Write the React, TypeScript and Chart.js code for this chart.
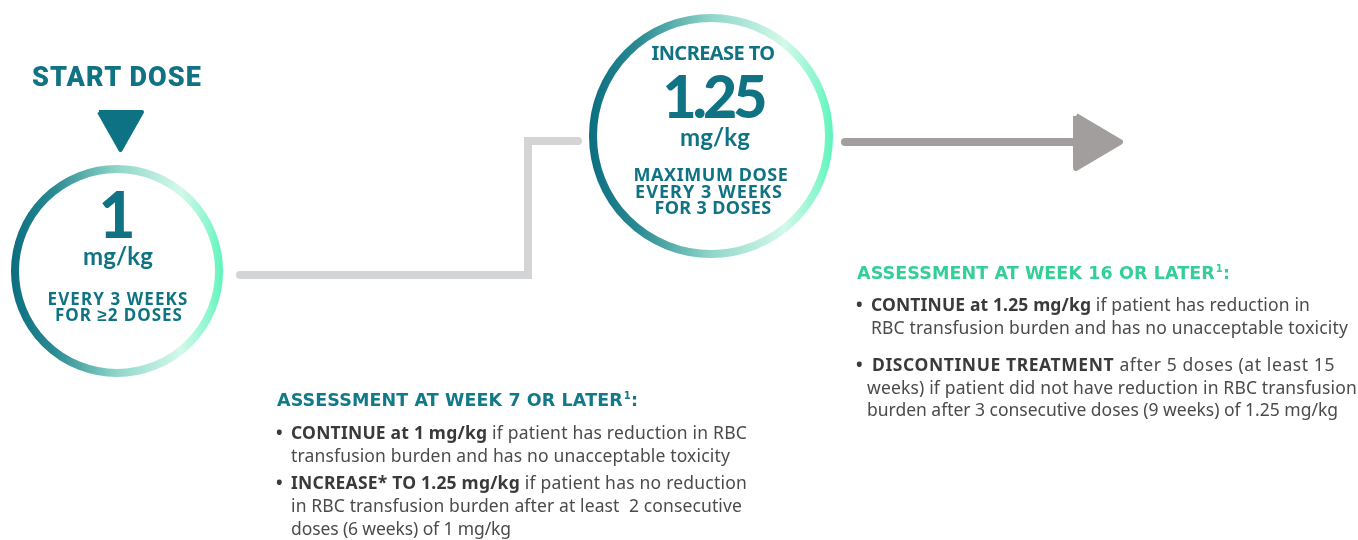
import React, { useEffect, useLayoutEffect, useRef } from "react";
import { Chart, registerables } from "chart.js";

Chart.register(...registerables);

const W = 1358;
const H = 540;

// Node / path coordinates of the flow diagram (in scale units = pixels of the 1358x540 plot)
const connectorPath = [
  { x: 240, y: 275 },
  { x: 528, y: 275 },
  { x: 528, y: 141 },
  { x: 578, y: 141 },
];
const arrowShaft = [
  { x: 845, y: 142 },
  { x: 1078, y: 142 },
];
const arrowHead = [
  { x: 1076, y: 116 },
  { x: 1120, y: 142 },
  { x: 1076, y: 168 },
  { x: 1076, y: 116 },
];
const startMarker = [
  { x: 99, y: 112 },
  { x: 142, y: 112 },
  { x: 120.5, y: 150 },
  { x: 99, y: 112 },
];
const doseNodes = [
  { x: 117, y: 271 },
  { x: 711, y: 136 },
];
const ringRadii = [102, 118];
const divider1 = [
  { x: 52, y: 278 },
  { x: 179, y: 278 },
];
const divider2 = [
  { x: 643, y: 156 },
  { x: 787, y: 156 },
];

const TEAL = "#0f7383";
const GREEN = "#33cf97";
const BODY = "#4b4b4d";
const BODY_BOLD = "#3a3a3c";

const METRICS: Record<string, { asc: number; desc: number }> = {
  Roboto: { asc: 0.927, desc: 0.244 },
  Lato: { asc: 0.987, desc: 0.213 },
  "Open Sans": { asc: 1.069, desc: 0.293 },
  "Noto Sans": { asc: 1.069, desc: 0.293 },
  "DejaVu Sans": { asc: 0.928, desc: 0.236 },
};

type TextProps = {
  x: number;
  y: number;
  size: number;
  weight?: number;
  color: string;
  align?: "left" | "center";
  family?: string;
  fit?: number;
  children: React.ReactNode;
};

function Txt({ x, y, size, weight = 400, color, align = "left", family = "Noto Sans", fit, children }: TextProps) {
  const el = useRef<HTMLDivElement | null>(null);
  useLayoutEffect(() => {
    const node = el.current;
    if (!node || !fit) return;
    node.style.letterSpacing = "0px";
    const w = node.getBoundingClientRect().width;
    const n = (node.textContent || "").length;
    if (n > 0) node.style.letterSpacing = `${(fit - w) / n}px`;
  }, [fit]);
  const m = METRICS[family] || METRICS.Lato;
  const top = y - ((size * (1 - m.asc - m.desc)) / 2 + m.asc * size);
  const style: React.CSSProperties = {
    position: "absolute",
    top,
    left: x,
    whiteSpace: "pre",
    fontFamily: `"${family}", sans-serif`,
    fontSize: size,
    fontWeight: weight,
    color,
    lineHeight: `${size}px`,
  };
  if (align === "center") style.transform = "translateX(-50%)";
  return (
    <div ref={el} style={style}>
      {children}
    </div>
  );
}

const B = ({ children }: { children: React.ReactNode }) => (
  <span style={{ fontWeight: 700, color: BODY_BOLD }}>{children}</span>
);
const Sup = () => (
  <span style={{ fontSize: 10, position: "relative", top: -7, marginLeft: 1 }}>1</span>
);

const BODY_SIZE = 17.5;

function Body({ x, y, fit, children }: { x: number; y: number; fit?: number; children: React.ReactNode }) {
  return (
    <Txt x={x} y={y} size={BODY_SIZE} color={BODY} fit={fit}>
      {children}
    </Txt>
  );
}

function Bullet({ x, y }: { x: number; y: number }) {
  return (
    <Txt x={x} y={y} size={BODY_SIZE} weight={700} color={BODY_BOLD}>
      •
    </Txt>
  );
}

export default function App() {
  const ref = useRef<HTMLCanvasElement | null>(null);

  useEffect(() => {
    if (!ref.current) return;
    const ringColor = (c: any) => {
      const chart = c.chart;
      if (c.type !== "data" || !chart.scales || !chart.scales.x) return TEAL;
      const p = doseNodes[c.dataIndex];
      const r = ringRadii[c.dataIndex] + 4;
      const cx = chart.scales.x.getPixelForValue(p.x);
      if (!Number.isFinite(cx)) return TEAL;
      const g = chart.ctx.createLinearGradient(cx - r, 0, cx + r, 0);
      g.addColorStop(0, "#0b6e80");
      g.addColorStop(0.2, "#2a8a92");
      g.addColorStop(0.5, "#8fd6c9");
      g.addColorStop(0.8, "#d3f9ea");
      g.addColorStop(0.93, "#8ef6cf");
      g.addColorStop(1, "#5cf5ba");
      return g;
    };

    const chart = new Chart(ref.current, {
      type: "scatter",
      data: {
        datasets: [
          {
            type: "scatter",
            data: doseNodes,
            pointRadius: ringRadii,
            pointHoverRadius: ringRadii,
            pointBorderWidth: 8,
            pointHoverBorderWidth: 8,
            pointBackgroundColor: "#ffffff",
            pointBorderColor: ringColor,
          } as any,
          { type: "line", data: divider1, borderColor: TEAL, borderWidth: 2, pointRadius: 0 },
          { type: "line", data: divider2, borderColor: TEAL, borderWidth: 2, pointRadius: 0 },
          {
            type: "line",
            data: connectorPath,
            borderColor: "#d3d4d6",
            borderWidth: 8,
            borderCapStyle: "round",
            borderJoinStyle: "miter",
            pointRadius: 0,
            tension: 0,
          },
          {
            type: "line",
            data: arrowShaft,
            borderColor: "#a39e9e",
            borderWidth: 8,
            borderCapStyle: "round",
            pointRadius: 0,
          },
          {
            type: "line",
            data: arrowHead,
            borderColor: "#a39e9e",
            backgroundColor: "#a39e9e",
            borderWidth: 6,
            borderJoinStyle: "round",
            fill: "shape",
            pointRadius: 0,
          },
          {
            type: "line",
            data: startMarker,
            borderColor: "#0d7283",
            backgroundColor: "#0d7283",
            borderWidth: 4,
            borderJoinStyle: "round",
            fill: "shape",
            pointRadius: 0,
          },
        ],
      },
      options: {
        animation: false,
        responsive: false,
        devicePixelRatio: 1,
        events: [],
        layout: { padding: 0, autoPadding: false },
        plugins: { legend: { display: false }, tooltip: { enabled: false } },
        scales: {
          x: { type: "linear", min: 0, max: W, display: false },
          y: { type: "linear", min: 0, max: H, reverse: true, display: false },
        },
      },
    });
    chart.update();
    return () => chart.destroy();
  }, []);

  return (
    <div style={{ position: "absolute", left: 0, top: 0, width: W, height: H, background: "#fff", overflow: "hidden" }}>
      <canvas ref={ref} width={W} height={H} style={{ position: "absolute", left: 0, top: 0 }} />

      {/* Start dose */}
      <Txt x={117} y={87} size={27} weight={900} color={TEAL} align="center" family="Roboto" fit={170}>START DOSE</Txt>

      {/* Circle 1 */}
      <Txt x={117} y={239} size={64} weight={900} color={TEAL} align="center" family="Lato">1</Txt>
      <Txt x={118} y={265} size={24} weight={700} color={TEAL} align="center" family="Lato" fit={70}>mg/kg</Txt>
      <Txt x={118} y={305} size={17} weight={700} color={TEAL} align="center" fit={141}>EVERY 3 WEEKS</Txt>
      <Txt x={119} y={321} size={17} weight={700} color={TEAL} align="center" fit={128}>FOR ≥2 DOSES</Txt>

      {/* Circle 2 */}
      <Txt x={713} y={61} size={20} weight={700} color={TEAL} align="center" fit={123}>INCREASE TO</Txt>
      <Txt x={713} y={118} size={59} weight={900} color={TEAL} align="center" family="Lato" fit={101}>1.25</Txt>
      <Txt x={715} y={146} size={24} weight={700} color={TEAL} align="center" family="Lato" fit={70}>mg/kg</Txt>
      <Txt x={711} y={181} size={18} weight={700} color={TEAL} align="center" fit={155}>MAXIMUM DOSE</Txt>
      <Txt x={709} y={198} size={18} weight={700} color={TEAL} align="center" fit={148}>EVERY 3 WEEKS</Txt>
      <Txt x={713} y={214} size={18} weight={700} color={TEAL} align="center" fit={117}>FOR 3 DOSES</Txt>

      {/* Assessment week 7 */}
      <Txt x={277} y={407} size={17.5} weight={700} color="#127989" family="DejaVu Sans" fit={361}>ASSESSMENT AT WEEK 7 OR LATER<Sup />:</Txt>
      <Bullet x={276} y={440} />
      <Body x={291} y={440} fit={456}><B>CONTINUE at 1 mg/kg</B> if patient has reduction in RBC</Body>
      <Body x={291} y={463} fit={439}>transfusion burden and has no unacceptable toxicity</Body>
      <Bullet x={276} y={490} />
      <Body x={291} y={490} fit={456}><B>INCREASE* TO 1.25 mg/kg</B> if patient has no reduction</Body>
      <Body x={291} y={513} fit={451}>in RBC transfusion burden after at least  2 consecutive</Body>
      <Body x={291} y={536} fit={220}>doses (6 weeks) of 1 mg/kg</Body>

      {/* Assessment week 16 */}
      <Txt x={857} y={280} size={17.5} weight={700} color={GREEN} family="DejaVu Sans" fit={373}>ASSESSMENT AT WEEK 16 OR LATER<Sup />:</Txt>
      <Bullet x={856} y={312} />
      <Body x={871} y={312} fit={439}><B>CONTINUE at 1.25 mg/kg</B> if patient has reduction in</Body>
      <Body x={871} y={335} fit={477}>RBC transfusion burden and has no unacceptable toxicity</Body>
      <Bullet x={856} y={372} />
      <Body x={872} y={372} fit={463}><B>DISCONTINUE TREATMENT</B> after 5 doses (at least 15</Body>
      <Body x={867} y={395} fit={490}>weeks) if patient did not have reduction in RBC transfusion</Body>
      <Body x={867} y={417} fit={471}>burden after 3 consecutive doses (9 weeks) of 1.25 mg/kg</Body>
    </div>
  );
}
